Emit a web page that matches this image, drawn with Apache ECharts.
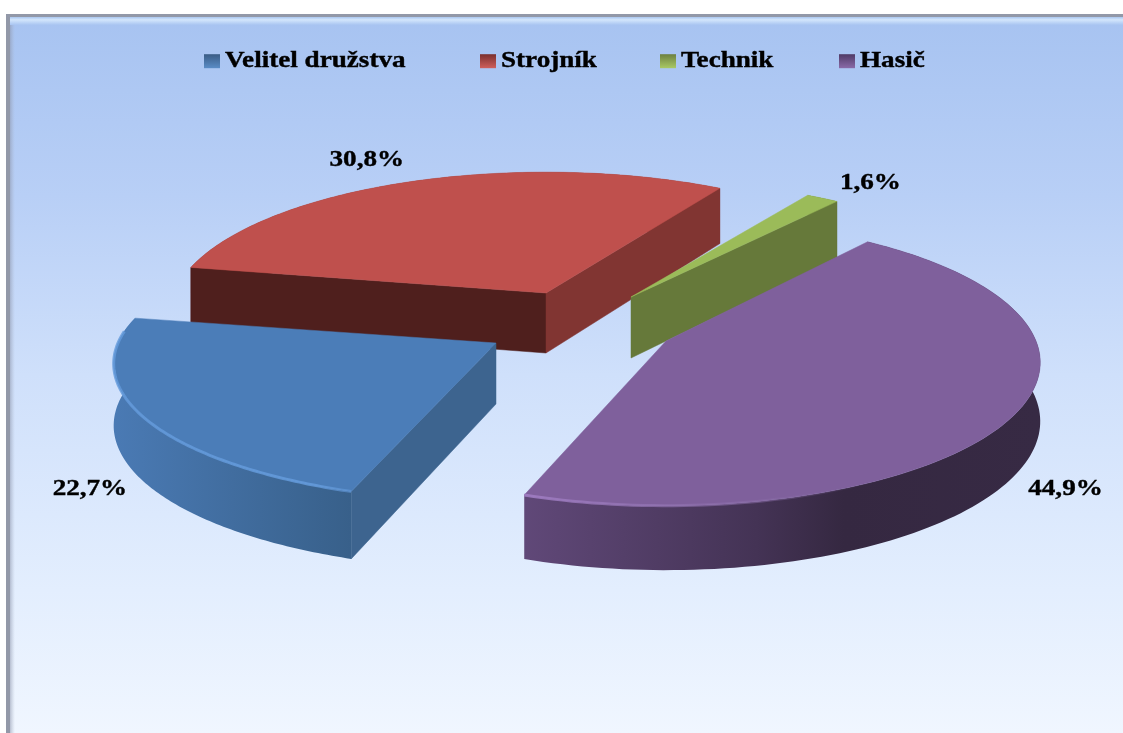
<!DOCTYPE html>
<html><head><meta charset="utf-8">
<style>html,body{margin:0;padding:0;background:#fff}#c{width:1123px;height:733px}</style>
<script src="https://cdn.jsdelivr.net/npm/echarts@6/dist/echarts.min.js"></script>
</head><body><div id="c"></div>
<script>
// ---- data
const categories = ['Velitel družstva', 'Strojník', 'Technik', 'Hasič'];
const shares = [22.7, 30.8, 1.6, 44.9];

// ---- style / layout of the exploded perspective pie
const FONT = '"Liberation Serif", serif';
const FONT_SIZE = 24, STRETCH = 1.13;
const firstAngle = -109.2;        // degrees, counter-clockwise from +x; slices run clockwise
const P = 0.15;
const scaleX = [378, 372, 378, 370], scaleY = [135, 139, 135, 140], depths = [61, 60, 61, 58];
const apexes = [[496, 343], [546, 293], [631, 297], [666, 341]];   // exploded slice apex
const topColors = ['#4b7db8', '#bf504d', '#9bbb59', '#7f609c'];
const startFace = ['#3d648f', '#4f1f1d', null, null];
const endFace = [null, '#813532', '#66793a', null];
const wallStops = [
  [[0, '#4a7ab4'], [1, '#38608a']],
  [[0, '#813532'], [1, '#813532']],
  [[0, '#66793a'], [1, '#66793a']],
  [[0, '#604878'], [0.45, '#443355'], [0.62, '#352841'], [1, '#372a44']]
];
const rimStops = [
  [[0, 'rgba(100,155,220,0.8)'], [0.85, 'rgba(100,155,220,0.85)'], [1, 'rgba(100,155,220,0.5)']],
  null, null,
  [[0, 'rgba(160,125,195,0.9)'], [0.45, 'rgba(140,110,170,0.5)'], [0.65, 'rgba(127,96,156,0)'], [1, 'rgba(127,96,156,0)']]
];
const labelOffsets = [[-52, 73], [-48, -21], [48, -15], [49, 76]];
const legendLefts = [199, 475, 655, 834];
const legendStops = [['#3a5c85', '#5a8cc6'], ['#7a2f2d', '#cf5f5b'], ['#6d8040', '#a9c964'], ['#4f3a66', '#8a6aa8']];
const z = [4, 2, 3, 5];

const total = shares.reduce((a, b) => a + b, 0);
function sliceAngles(i) {
  const before = shares.slice(0, i).reduce((a, b) => a + b, 0);
  return [firstAngle - before / total * 360, firstAngle - (before + shares[i]) / total * 360];
}
function project(i, deg, r, drop) {
  const t = deg * Math.PI / 180, s = Math.sin(t) * r, c = Math.cos(t) * r;
  const k = 1 + P * s;
  const y = apexes[i][1] - scaleY[i] * s / k + (drop ? depths[i] / (1 + 0.1 * s) : 0);
  return [apexes[i][0] + scaleX[i] * c / k, y];
}
function arc(i, a0, a1, drop) {
  const n = 120, pts = [];
  for (let j = 0; j <= n; j++) pts.push(project(i, a0 + (a1 - a0) * j / n, 1, drop));
  return pts;
}
function hGrad(stops) {
  return new echarts.graphic.LinearGradient(0, 0, 1, 0, stops.map(s => ({offset: s[0], color: s[1]})));
}
function face(i, deg, color) {
  return {type: 'polygon', shape: {points: [project(i, deg, 0, false), project(i, deg, 1, false), project(i, deg, 1, true), project(i, deg, 0, true)]},
    style: {fill: color, stroke: color, lineWidth: 0.5}};
}
function renderSlice(i, value) {
  const [a0, a1] = sliceAngles(i), kids = [];
  const top = arc(i, a0, a1, false), bottom = arc(i, a0, a1, true);
  kids.push({type: 'polygon', shape: {points: top.concat(bottom.slice().reverse())}, style: {fill: hGrad(wallStops[i])}});
  if (startFace[i]) kids.push(face(i, a0, startFace[i]));
  if (endFace[i]) kids.push(face(i, a1, endFace[i]));
  kids.push({type: 'polygon', shape: {points: [project(i, a0, 0, false)].concat(top)}, style: {fill: topColors[i], stroke: topColors[i], lineWidth: 0.5}});
  if (rimStops[i]) {
    const front = i === 3 ? arc(i, a1, Math.min(a0, 0), false) : arc(i, Math.max(a1, -185), a0, false);
    kids.push({type: 'polyline', shape: {points: front}, style: {fill: null, stroke: hGrad(rimStops[i]), lineWidth: 3}});
  }
  const mid = project(i, (a0 + a1) / 2, 1, false), off = labelOffsets[i];
  kids.push({type: 'text', x: mid[0] + off[0], y: mid[1] + off[1], scaleX: STRETCH, z2: 10,
    style: {text: value.toFixed(1).replace('.', ',') + '%', x: 0, y: 0, align: 'center', verticalAlign: 'middle',
      font: 'bold ' + FONT_SIZE + 'px ' + FONT, fill: '#000', stroke: '#000', lineWidth: 0.4}});
  return {type: 'group', children: kids};
}

const chart = echarts.init(document.getElementById('c'), null, {renderer: 'canvas'});
chart.setOption({
  animation: false,
  backgroundColor: '#fff',
  graphic: {elements: [
    {type: 'rect', z: 0, silent: true, shape: {x: 6, y: 14, width: 1117, height: 719}, style: {fill: '#9298a8'}},
    {type: 'rect', z: 0, silent: true, shape: {x: 10, y: 17, width: 1113, height: 716}, style: {
      fill: new echarts.graphic.LinearGradient(0, 0, 0, 1, [
        {offset: 0, color: '#a7c3f1'}, {offset: 0.25, color: '#b8cff6'}, {offset: 0.5, color: '#cfe0fb'},
        {offset: 0.8, color: '#e3eefe'}, {offset: 1, color: '#f0f6ff'}])}},
    {type: 'rect', z: 0, silent: true, shape: {x: 10, y: 17, width: 1113, height: 8}, style: {
      fill: new echarts.graphic.LinearGradient(0, 0, 0, 1, [
        {offset: 0, color: '#a9c6f0'}, {offset: 0.35, color: '#d3e6fc'}, {offset: 1, color: '#a8c4f1'}])}},
    {type: 'rect', z: 0, silent: true, shape: {x: 10, y: 25, width: 5, height: 708}, style: {
      fill: new echarts.graphic.LinearGradient(0, 0, 1, 0, [
        {offset: 0, color: 'rgba(140,148,170,0.55)'}, {offset: 1, color: 'rgba(170,180,200,0)'}])}}
  ]},
  legend: categories.map((name, i) => ({
    left: legendLefts[i], top: 44, orient: 'horizontal', selectedMode: false,
    itemWidth: 16, itemHeight: 14, icon: 'rect',
    textStyle: {fontFamily: FONT, fontWeight: 'bold', fontSize: FONT_SIZE, color: '#000', textBorderColor: '#000', textBorderWidth: 0.4},
    data: [{name, icon: 'rect', itemStyle: {color: new echarts.graphic.LinearGradient(0, 0, 0, 1, [
      {offset: 0, color: legendStops[i][0]}, {offset: 1, color: legendStops[i][1]}])}}]
  })),
  series: categories.map((name, i) => ({
    type: 'custom', name, coordinateSystem: 'none', z: z[i], silent: true, clip: false,
    itemStyle: {color: topColors[i]},
    data: [[shares[i]]],
    renderItem: (params, api) => renderSlice(i, api.value(0))
  }))
});

// the reference's text is horizontally stretched: apply the same to the legend labels
chart.getZr().storage.getRoots().forEach(root => {
  if (!root.traverse) return;
  root.traverse(el => {
    if (el.type === 'text' && el.style && categories.includes(el.style.text)) {
      el.originX = el.style.x || 0;
      el.scaleX = STRETCH;
      el.markRedraw();
    }
  });
});
chart.getZr().refreshImmediately && chart.getZr().refreshImmediately();
</script></body></html>
